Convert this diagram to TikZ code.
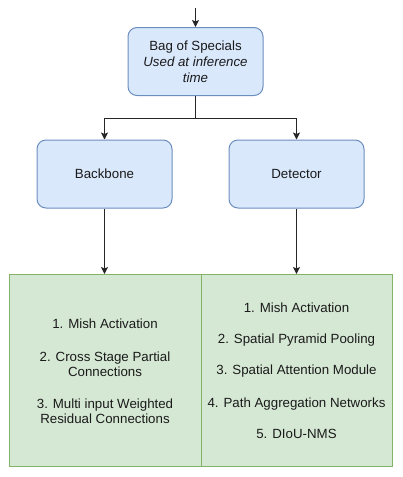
\documentclass[tikz,border=0pt]{standalone}
\usepackage{fontspec}
\setmainfont{Liberation Sans}
\usetikzlibrary{arrows.meta}
\definecolor{bfill}{HTML}{DAE8FC}
\definecolor{bdraw}{HTML}{6C8EBF}
\definecolor{gfill}{HTML}{D5E8D4}
\definecolor{gdraw}{HTML}{82B366}
\definecolor{txt}{HTML}{1A1A1A}
\begin{document}
\begin{tikzpicture}[x=1pt,y=-1pt,
  bluebox/.style={draw=bdraw,fill=bfill,line width=1pt,rounded corners=9pt,minimum width=135pt,minimum height=68pt,inner sep=0pt,align=center,text=txt,font=\fontsize{13.3pt}{15.8pt}\selectfont},
  greenbox/.style={draw=gdraw,fill=gfill,line width=1pt,minimum height=192pt,inner sep=0pt},
  itemtext/.style={align=center,text=txt,font=\fontsize{13.3pt}{15pt}\selectfont},
  conn/.style={draw=black!85,line width=1pt,-{Stealth[length=7pt,width=7pt,inset=1.5pt]}}]
\useasboundingbox (0,0) rectangle (403,477);
\coordinate (start) at (195.5,8);
\node[bluebox] (bag) at (195.5,61.5) {Bag of Specials\\\textit{Used at inference}\\\textit{time}};
\node[bluebox] (backbone) at (104.5,174) {Backbone};
\node[bluebox] (detector) at (296.5,174) {Detector};
\node[greenbox,minimum width=192pt] (left) at (105,370.5) {};
\node[greenbox,minimum width=191pt] (right) at (296.5,370.5) {};
\node[itemtext] (ltext) at (105,371) {1. Mish Activation\\[18pt]2. Cross Stage Partial\\Connections\\[17pt]3. Multi input Weighted\\Residual Connections};
\node[itemtext] (rtext) at (296.5,371) {1. Mish Activation\\[16pt]2. Spatial Pyramid Pooling\\[16pt]3. Spatial Attention Module\\[18pt]4. Path Aggregation Networks\\[16pt]5. DIoU-NMS};
\draw[conn] (start) -- (bag.north);
\draw[conn] (bag.south) -- ++(0,22) -| (backbone.north);
\draw[conn] (bag.south) -- ++(0,22) -| (detector.north);
\draw[conn] (backbone.south) -- (backbone.south |- left.north);
\draw[conn] (detector.south) -- (detector.south |- right.north);
\end{tikzpicture}
\end{document}
